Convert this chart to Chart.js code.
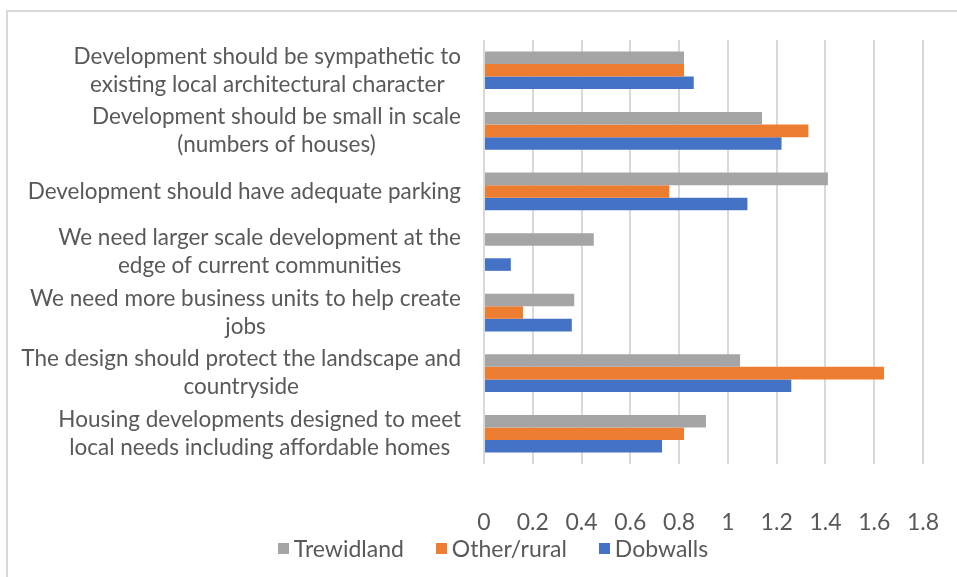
<!DOCTYPE html>
<html>
<head>
<meta charset="utf-8">
<script src="https://cdn.jsdelivr.net/npm/chart.js@4.4.1/dist/chart.umd.min.js"></script>
<style>
  html, body { margin: 0; padding: 0; background: #fff; overflow: hidden; }
  #wrap { position: relative; width: 957px; height: 577px; }
  #legend {
    position: absolute; left: 0; top: 534px; width: 957px; padding-left: 29px; box-sizing: border-box;
    display: flex; justify-content: center; gap: 32px;
    font: 23px Lato, sans-serif; color: #595959;
  }
  #legend .item { display: flex; align-items: center; }
  #legend .box { width: 11px; height: 11px; margin-right: 5px; }
</style>
</head>
<body>
<div id="wrap">
  <canvas id="chart"></canvas>
  <div id="legend"></div>
</div>
<script>
/* survey responses — horizontal grouped bars */

const categories = [
  ['Development should be sympathetic to', 'existing local architectural character'],
  ['Development should be small in scale', '(numbers of houses)'],
  ['Development should have adequate parking'],
  ['We need larger scale development at the', 'edge of current communities'],
  ['We need more business units to help create', 'jobs'],
  ['The design should protect the landscape and', 'countryside'],
  ['Housing developments designed to meet', 'local needs including affordable homes']
];

const trewidland = [0.82, 1.14, 1.41, 0.45, 0.37, 1.05, 0.91];
const otherRural = [0.82, 1.33, 0.76, 0, 0.16, 1.64, 0.82];
const dobwalls   = [0.86, 1.22, 1.08, 0.11, 0.36, 1.26, 0.73];

const xTickLabels = ['0', '0.2', '0.4', '0.6', '0.8', '1', '1.2', '1.4', '1.6', '1.8'];

const FONT = 'Lato, sans-serif';
const TEXT = '#595959';
const GRID = '#d9d9d9';

// Excel-style category labels: each block right-aligned, its lines centred
const yLabelPlugin = {
  id: 'yLabels',
  afterDraw(chart) {
    const scale = chart.scales.y;
    const ctx = chart.ctx;
    ctx.save();
    ctx.font = '22.5px ' + FONT;
    ctx.fillStyle = TEXT;
    ctx.textAlign = 'center';
    ctx.textBaseline = 'middle';
    const right = scale.right - 23;
    categories.forEach((lines, i) => {
      const y = scale.getPixelForValue(i);
      const w = Math.max(...lines.map(l => ctx.measureText(l).width));
      const cx = right - w / 2;
      lines.forEach((l, j) => {
        ctx.fillText(l, cx, y + (j - (lines.length - 1) / 2) * 28);
      });
    });
    ctx.restore();
  }
};

// light frame round the chart
const framePlugin = {
  id: 'frame',
  beforeDraw(chart) {
    const ctx = chart.ctx;
    ctx.save();
    ctx.strokeStyle = GRID;
    ctx.lineWidth = 2;
    ctx.strokeRect(7, 11, 1000, 1000);
    ctx.restore();
  }
};

const datasets = [
  { label: 'Trewidland', data: trewidland, backgroundColor: '#a5a5a5' },
  { label: 'Other/rural', data: otherRural, backgroundColor: '#ed7d31' },
  { label: 'Dobwalls', data: dobwalls, backgroundColor: '#4472c4' }
];

const chart = new Chart(document.getElementById('chart'), {
  type: 'bar',
  data: {
    labels: categories,
    datasets: datasets.map(d => ({ ...d, borderWidth: 0, categoryPercentage: 0.622, barPercentage: 1 }))
  },
  options: {
    indexAxis: 'y',
    responsive: true,
    maintainAspectRatio: false,
    animation: false,
    layout: { padding: { top: 40, right: 0, bottom: 40, left: 0 } },
    plugins: {
      legend: { display: false },
      tooltip: { enabled: false }
    },
    scales: {
      x: {
        min: 0,
        max: 1.8,
        border: { display: false },
        grid: { color: GRID, lineWidth: 2, drawTicks: false },
        ticks: {
          stepSize: 0.2,
          padding: 45,
          color: TEXT,
          font: { family: FONT, size: 23, lineHeight: 1.2 },
          maxRotation: 0,
          autoSkip: false,
          callback: (v, i) => xTickLabels[i]
        },
        afterFit: scale => {
          scale.height = 73;
          scale.paddingLeft = 0;
          scale.paddingRight = 34;
        }
      },
      y: {
        border: { display: false },
        grid: { display: false },
        ticks: { display: false },
        afterFit: scale => { scale.width = 484; }
      }
    }
  },
  plugins: [framePlugin, yLabelPlugin]
});

// legend built from the datasets
const legend = document.getElementById('legend');
datasets.forEach(d => {
  const item = document.createElement('span');
  item.className = 'item';
  const box = document.createElement('span');
  box.className = 'box';
  box.style.background = d.backgroundColor;
  item.appendChild(box);
  item.appendChild(document.createTextNode(d.label));
  legend.appendChild(item);
});
</script>
</body>
</html>
